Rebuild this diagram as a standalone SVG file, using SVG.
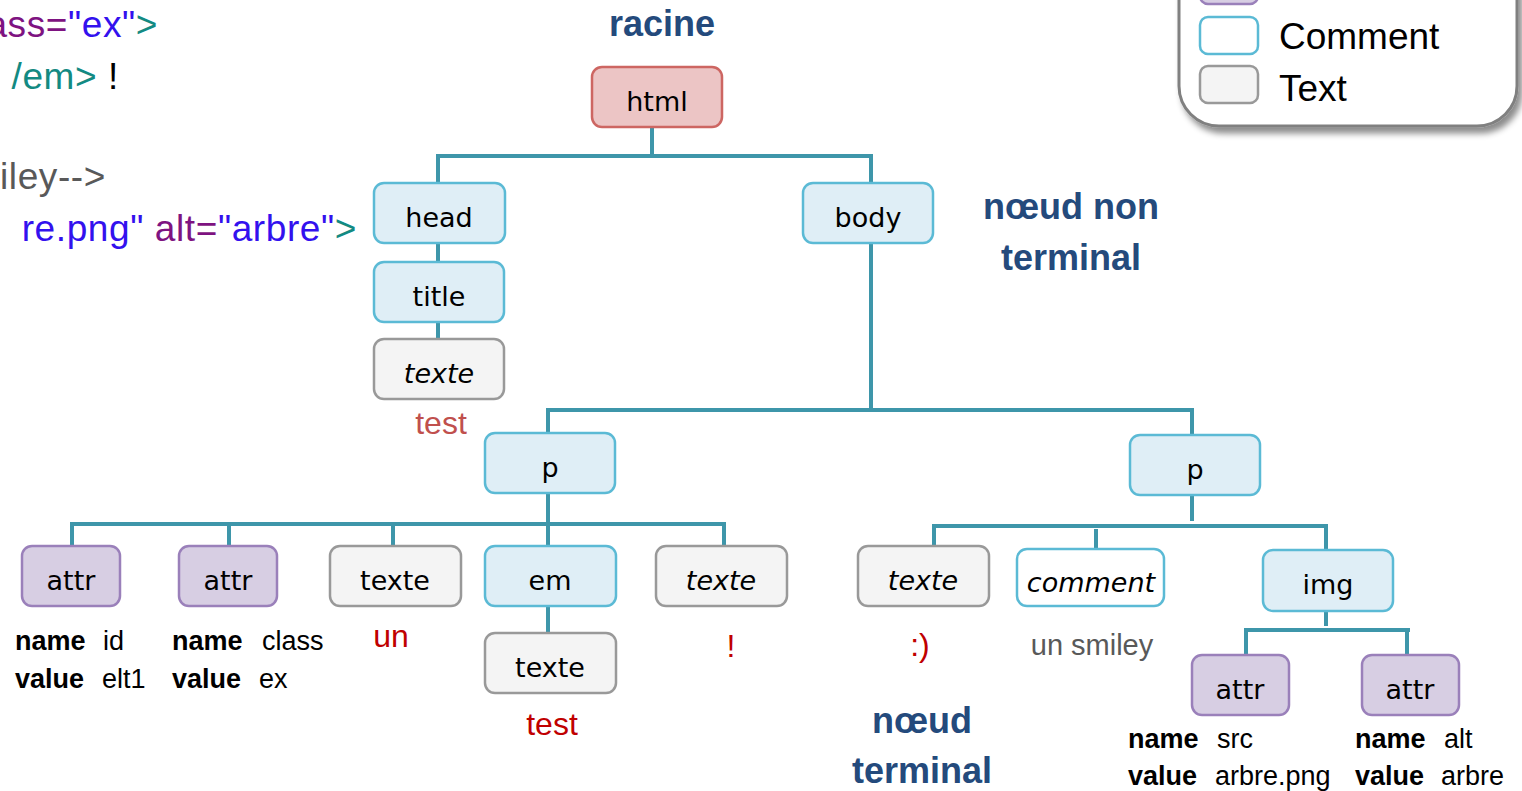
<svg xmlns="http://www.w3.org/2000/svg" width="1522" height="791" viewBox="0 0 1522 791">
<style>
.n{stroke-width:2.5}
.blue{fill:#DFEEF6;stroke:#5BBAD5}
.pink{fill:#ECC5C5;stroke:#CD6662}
.purple{fill:#D7CEE3;stroke:#9A80BA}
.gray{fill:#F4F4F4;stroke:#999999}
.cmt{fill:#FFFFFF;stroke:#5BBAD5}
.lbl{font-family:"DejaVu Sans",sans-serif;font-size:27px;fill:#000;text-anchor:middle}
.it{font-style:italic}
.conn{fill:none;stroke:#3E96AA;stroke-width:4}
.head{font-family:"Liberation Sans",Arial,sans-serif;font-weight:bold;font-size:36px;fill:#244A7C;text-anchor:middle}
.red{font-family:"Liberation Sans",Arial,sans-serif;font-size:32px;fill:#C00000;text-anchor:middle}
.kv{font-family:"Liberation Sans",Arial,sans-serif;font-size:27px;fill:#000}
.kv .b{font-weight:bold}
.code{font-family:"Liberation Sans",Arial,sans-serif;font-size:37px;letter-spacing:0.6px;text-anchor:end}
.pu{fill:#7E1381}.bl{fill:#3311EE}.te{fill:#138A82}.gr{fill:#595959}.bk{fill:#000}
.leg{font-family:"Liberation Sans",Arial,sans-serif;font-size:37px;fill:#000}
</style>
<defs>
<filter id="sh" x="-10%" y="-10%" width="130%" height="140%">
<feDropShadow dx="4" dy="6" stdDeviation="3" flood-color="#000" flood-opacity="0.45"/>
</filter>
</defs>
<rect width="1522" height="791" fill="#FFFFFF"/>

<g id="code">
<text class="code" x="158" y="37"><tspan class="pu">ass=</tspan><tspan class="bl">"ex"</tspan><tspan class="te">&gt;</tspan></text>
<text class="code" x="119" y="89"><tspan class="te">/em&gt;</tspan><tspan class="bk"> !</tspan></text>
<text class="code" x="106" y="189"><tspan class="gr">iley--&gt;</tspan></text>
<text class="code" x="357" y="241"><tspan class="bl">re.png"</tspan><tspan class="pu"> alt=</tspan><tspan class="bl">"arbre"</tspan><tspan class="te">&gt;</tspan></text>
</g>

<g id="legend">
<rect x="1179" y="-60" width="338" height="186" rx="40" fill="#FFFFFF" stroke="#808080" stroke-width="3" filter="url(#sh)"/>
<rect class="n purple" x="1200" y="-33" width="58" height="37" rx="8"/>
<rect class="n cmt" x="1200" y="17" width="58" height="37" rx="8"/>
<text class="leg" x="1279" y="49">Comment</text>
<rect class="n gray" x="1200" y="66" width="58" height="37" rx="8"/>
<text class="leg" x="1279" y="101">Text</text>
</g>

<g id="annotations">
<text class="head" x="662" y="36">racine</text>
<text class="head" x="1071" y="219">nœud non</text>
<text class="head" x="1071" y="270">terminal</text>
<text class="head" x="922" y="733">nœud</text>
<text class="head" x="922" y="783">terminal</text>
</g>

<g id="connectors">
<path class="conn" d="M652,127 V156"/>
<path class="conn" d="M438,183 V156 H871 V184"/>
<path class="conn" d="M438,243 V262"/>
<path class="conn" d="M438,322 V339"/>
<path class="conn" d="M871,244 V410"/>
<path class="conn" d="M548,433 V410 H1192 V435"/>
<path class="conn" d="M548,493 V546"/>
<path class="conn" d="M72,546 V524 H724 V546"/>
<path class="conn" d="M229,524 V546"/>
<path class="conn" d="M393,524 V546"/>
<path class="conn" d="M548,606 V633"/>
<path class="conn" d="M1192,495 V521"/>
<path class="conn" d="M934,547 V526 H1326 V550"/>
<path class="conn" d="M1096,529 V549"/>
<path class="conn" d="M1326,611 V626"/>
<path class="conn" d="M1246,655 V630 H1410"/>
<path class="conn" d="M1407,632 V655"/>
</g>

<g id="n-html"><rect class="n pink" x="592" y="67" width="130" height="60" rx="10"/><text class="lbl" x="657" y="111">html</text></g>
<g id="n-head"><rect class="n blue" x="374" y="183" width="131" height="60" rx="10"/><text class="lbl" x="439" y="227">head</text></g>
<g id="n-title"><rect class="n blue" x="374" y="262" width="130" height="60" rx="10"/><text class="lbl" x="439" y="306">title</text></g>
<g id="n-texte-title"><rect class="n gray" x="374" y="339" width="130" height="60" rx="10"/><text class="lbl it" x="439" y="383">texte</text>
<text class="red" x="441" y="434" style="fill:#C0504D">test</text></g>
<g id="n-body"><rect class="n blue" x="803" y="183" width="130" height="60" rx="10"/><text class="lbl" x="868" y="227">body</text></g>
<g id="n-p1"><rect class="n blue" x="485" y="433" width="130" height="60" rx="10"/><text class="lbl" x="550" y="477">p</text></g>
<g id="n-p2"><rect class="n blue" x="1130" y="435" width="130" height="60" rx="10"/><text class="lbl" x="1195" y="479">p</text></g>

<g id="n-attr-id"><rect class="n purple" x="22" y="546" width="98" height="60" rx="10"/><text class="lbl" x="71" y="590">attr</text>
<text class="kv" y="650"><tspan class="b" x="15">name</tspan><tspan x="103">id</tspan></text>
<text class="kv" y="688"><tspan class="b" x="15">value</tspan><tspan x="102">elt1</tspan></text></g>
<g id="n-attr-class"><rect class="n purple" x="179" y="546" width="98" height="60" rx="10"/><text class="lbl" x="228" y="590">attr</text>
<text class="kv" y="650"><tspan class="b" x="172">name</tspan><tspan x="262">class</tspan></text>
<text class="kv" y="688"><tspan class="b" x="172">value</tspan><tspan x="259">ex</tspan></text></g>
<g id="n-texte-un"><rect class="n gray" x="330" y="546" width="131" height="60" rx="10"/><text class="lbl" x="395" y="590">texte</text>
<text class="red" x="391" y="647">un</text></g>
<g id="n-em"><rect class="n blue" x="485" y="546" width="131" height="60" rx="10"/><text class="lbl" x="550" y="590">em</text></g>
<g id="n-texte-test"><rect class="n gray" x="485" y="633" width="131" height="60" rx="10"/><text class="lbl" x="550" y="677">texte</text>
<text class="red" x="552" y="735">test</text></g>
<g id="n-texte-excl"><rect class="n gray" x="656" y="546" width="131" height="60" rx="10"/><text class="lbl it" x="721" y="590">texte</text>
<text class="red" x="731" y="657">!</text></g>
<g id="n-texte-smiley"><rect class="n gray" x="858" y="546" width="131" height="60" rx="10"/><text class="lbl it" x="923" y="590">texte</text>
<text class="red" x="920" y="656">:)</text></g>
<g id="n-comment"><rect class="n cmt" x="1017" y="549" width="147" height="57" rx="10"/><text class="lbl it" x="1091" y="592">comment</text>
<text class="kv" x="1092" y="655" style="fill:#595959;text-anchor:middle;font-size:29px">un smiley</text></g>
<g id="n-img"><rect class="n blue" x="1263" y="550" width="130" height="61" rx="10"/><text class="lbl" x="1328" y="594">img</text></g>
<g id="n-attr-src"><rect class="n purple" x="1192" y="655" width="97" height="60" rx="10"/><text class="lbl" x="1240" y="699">attr</text>
<text class="kv" y="748"><tspan class="b" x="1128">name</tspan><tspan x="1217">src</tspan></text>
<text class="kv" y="785"><tspan class="b" x="1128">value</tspan><tspan x="1215">arbre.png</tspan></text></g>
<g id="n-attr-alt"><rect class="n purple" x="1362" y="655" width="97" height="60" rx="10"/><text class="lbl" x="1410" y="699">attr</text>
<text class="kv" y="748"><tspan class="b" x="1355">name</tspan><tspan x="1444">alt</tspan></text>
<text class="kv" y="785"><tspan class="b" x="1355">value</tspan><tspan x="1441">arbre</tspan></text></g>
</svg>
